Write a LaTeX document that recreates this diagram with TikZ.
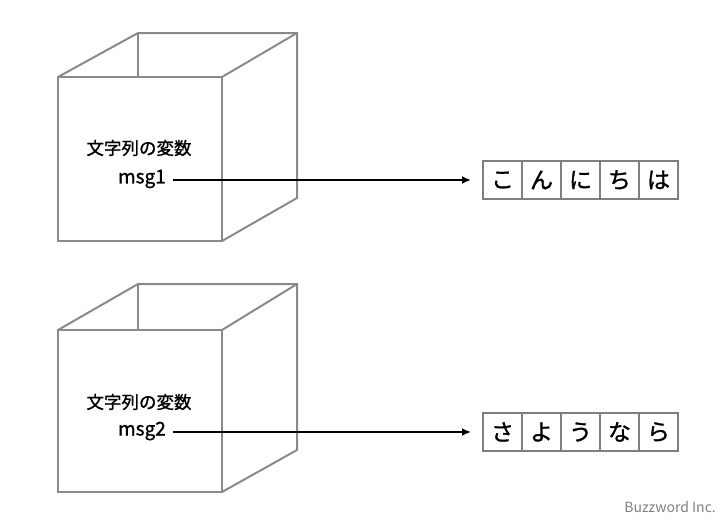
\documentclass[tikz,border=0pt]{standalone}
\usepackage{fontspec}
\setmainfont{Noto Sans CJK JP}
\newfontfamily\medfont{Noto Sans CJK JP}[FakeBold=1.2]
\usetikzlibrary{arrows.meta}
\definecolor{boxgray}{HTML}{8A8A8A}
\definecolor{cellgray}{HTML}{7F7F7F}
\definecolor{logogray}{HTML}{808080}
\tikzset{
  cube/.style={draw=boxgray, line width=2pt, line join=miter},
  cell/.style={draw=cellgray, line width=2pt, outer sep=0pt, minimum width=39pt, minimum height=38pt, inner sep=0pt, font=\medfont\fontsize{23}{26}\selectfont, anchor=west},
  lbl/.style={font=\medfont\fontsize{17.5}{20}\selectfont, inner sep=0pt},
  link/.style={draw=black, line width=2pt, -{Latex[length=9pt,width=8pt]}},
}
\begin{document}
\begin{tikzpicture}[x=1pt,y=-1pt]
\useasboundingbox (0,0) rectangle (728,522);
% cube 1
\draw[cube] (58,77) rectangle (222,241);
\draw[cube] (58,77) -- (138,33) -- (297,33) -- (297,198) -- (222,241);
\draw[cube] (222,77) -- (297,33);
\draw[cube] (138,33) -- (138,77);
% cube 2
\draw[cube] (58,330) rectangle (222,492);
\draw[cube] (58,330) -- (138,284) -- (297,284) -- (297,450) -- (222,492);
\draw[cube] (222,330) -- (297,284);
\draw[cube] (138,284) -- (138,330);
% labels
\node[lbl] (t1) at (139,148) {文字列の変数};
\node[lbl, anchor=east, font=\medfont\fontsize{19}{22}\selectfont] (m1) at (166,179) {msg1};
\node[lbl] (t2) at (139,402) {文字列の変数};
\node[lbl, anchor=east, font=\medfont\fontsize{19}{22}\selectfont] (m2) at (166,431) {msg2};
% strings
\node[cell] (a1) at (483,180) {こ};
\node[cell] (a2) at (a1.east) {ん};
\node[cell] (a3) at (a2.east) {に};
\node[cell] (a4) at (a3.east) {ち};
\node[cell] (a5) at (a4.east) {は};
\node[cell] (b1) at (483,432) {さ};
\node[cell] (b2) at (b1.east) {よ};
\node[cell] (b3) at (b2.east) {う};
\node[cell] (b4) at (b3.east) {な};
\node[cell] (b5) at (b4.east) {ら};
% connectors
\coordinate (s1) at (173,180);
\coordinate (e1) at (471,180);
\coordinate (s2) at (173,432);
\coordinate (e2) at (471,432);
\draw[link] (s1) -- (e1);
\draw[link] (s2) -- (e2);
% logo
\node[font=\fontsize{14}{16}\selectfont, text=logogray, anchor=east, inner sep=0pt] (logo) at (716,507) {Buzzword Inc.};
\end{tikzpicture}
\end{document}
